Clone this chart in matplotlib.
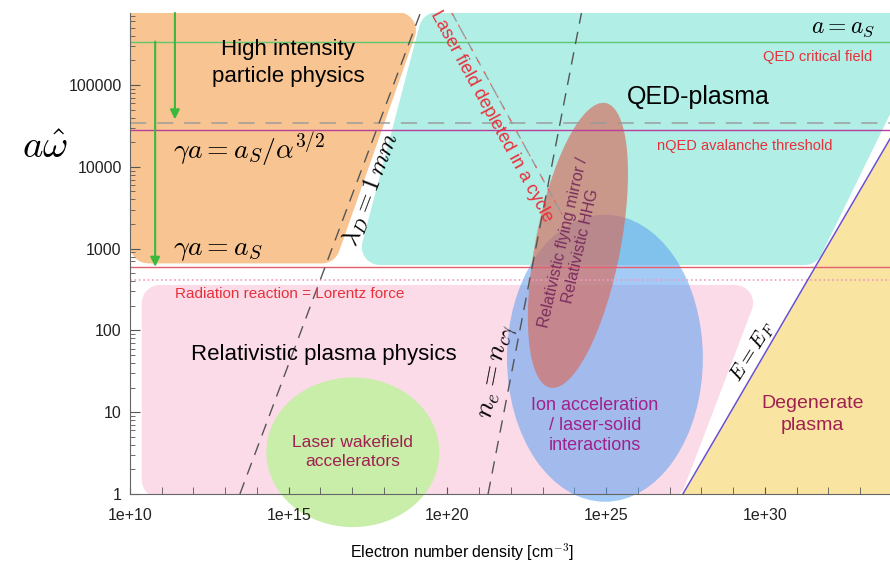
# Regimes of laser-plasma interaction in the (density, a*omega) plane

import matplotlib.pyplot as plt
import matplotlib.transforms as mtransforms
import numpy as np
from matplotlib.patches import Ellipse, Polygon
from matplotlib.ticker import NullFormatter

plt.rcParams["font.family"] = ["Liberation Sans", "DejaVu Sans"]
plt.rcParams["mathtext.fontset"] = "cm"

# Axis ranges: electron density [cm^-3] and a*omega
n_range = [1e10, 8.7e33]
a_range = [1, 7.6e5]

x_ticks = [1e10, 1e15, 1e20, 1e25, 1e30]
x_tick_labels = ["1e+10", "1e+15", "1e+20", "1e+25", "1e+30"]
y_ticks = [1, 10, 100, 1000, 10000, 100000]
y_tick_labels = ["1", "10", "100", "1000", "10000", "100000"]

# horizontal thresholds in a
a_critical = 3.4e5      # a = a_S
a_pair = 3.4e4          # gamma a = a_S / alpha^(3/2)
a_avalanche = 2.8e4     # nQED avalanche threshold
a_gamma_as = 590        # gamma a = a_S
a_rr = 410              # radiation reaction = Lorentz force

# sloped boundaries (density, a)
debye_n = [2.9e13, 1.4e19]
debye_a = [1, 7.6e5]
ncg_n = [1.9e21, 1.66e24]
ncg_a = [1, 7.6e5]
deplete_n = [1.38e20, 4.1e23]
deplete_a = [7.6e5, 2.6e3]
fermi_n = [2.6e27, 8.7e33]
fermi_a = [1, 2.2e4]

# green arrows
arrow_n = [2.6e11, 6.2e10]
arrow_a_start = [7.6e5, 3.4e5]
arrow_a_end = [3.8e4, 600]

# regime outlines, log10 of (density, a)
hi_logn = [9.37, 18.44, 16.05, 10.57]
hi_loga = [5.67, 5.67, 3.04, 3.04]
qed_logn = [19.67, 34.6, 31.26, 17.87]
qed_loga = [5.67, 5.67, 3.02, 3.02]
rel_logn = [10.94, 29.06, 26.94, 10.94]
rel_loga = [2.335, 2.335, 0.171, 0.171]

# elliptical regimes: centre (log10 n, log10 a), extent in decades
lwfa = (17.02, 0.51, 5.45, 1.83)
ion = (24.96, 1.66, 6.17, 3.51)
mirror = (24.11, 3.04)

fig = plt.figure(figsize=(8.9, 5.61), dpi=100)
ax = fig.add_axes([130 / 890, 67 / 561, 760 / 890, 481 / 561])
ax.set_xscale("log")
ax.set_yscale("log")
ax.set_xlim(n_range)
ax.set_ylim(a_range)

# transform taking log10 coordinates to the screen
log_tr = ax.transLimits + ax.transAxes
kx = 760 / (np.log10(n_range[1]) - np.log10(n_range[0]))
ky = 481 / (np.log10(a_range[1]) - np.log10(a_range[0]))
iso_tr = mtransforms.Affine2D().scale(1 / kx, 1 / ky) + log_tr


def region(logn, loga, color, z):
    pts = np.column_stack([logn, loga])
    ax.add_patch(Polygon(pts, closed=True, transform=log_tr, fc=color, ec=color,
                         lw=26, joinstyle="round", zorder=z))


region(rel_logn, rel_loga, "#fbdbe8", 1.0)
region(hi_logn, hi_loga, "#f8c592", 1.1)
region(qed_logn, qed_loga, "#b0eee6", 1.2)
ax.fill_between(fermi_n, fermi_a, 0.5, color="#f9e4a2", lw=0, zorder=1.3)

ax.add_patch(Ellipse(lwfa[:2], lwfa[2], lwfa[3], transform=log_tr, fc="#c8eeaa",
                     ec="none", zorder=1.5, clip_on=False))
ax.add_patch(Ellipse(ion[:2], ion[2], ion[3], transform=log_tr, fc="#5a9ff0",
                     ec="none", alpha=0.55, zorder=1.6, clip_on=False))
ax.add_patch(Ellipse((mirror[0] * kx, mirror[1] * ky), 85, 290, angle=-11,
                     transform=iso_tr, fc="#d86a5a", ec="none", alpha=0.65, zorder=1.7))

# horizontal lines
ax.axhline(a_critical, color="#5cc870", lw=1, zorder=2)
ax.axhline(a_pair, color="#999999", lw=1.3, dashes=(9, 6), alpha=0.8, zorder=2)
ax.axhline(a_avalanche, color="#b8409c", lw=1, zorder=2)
ax.axhline(a_gamma_as, color="#e06070", lw=1, zorder=2)
ax.axhline(a_rr, color="#f09ac0", lw=1.2, ls=":", zorder=2)

# sloped lines
ax.plot(debye_n, debye_a, color="#555555", lw=1, dashes=(9, 6), zorder=2)
ax.plot(ncg_n, ncg_a, color="#555555", lw=1, dashes=(9, 6), zorder=2)
ax.plot(deplete_n, deplete_a, color="#999999", lw=1, dashes=(7, 5), zorder=2)
ax.plot(deplete_n, deplete_a, color="#ee6060", lw=0.8, dashes=(3, 9), zorder=2)
ax.plot(fermi_n, fermi_a, color="#6a50d0", lw=1.1, zorder=2)

for n, a0, a1 in zip(arrow_n, arrow_a_start, arrow_a_end):
    ax.annotate("", xy=(n, a1), xytext=(n, a0),
                arrowprops=dict(arrowstyle="-|>", color="#3cb83c", lw=1.5,
                                mutation_scale=14, shrinkA=0, shrinkB=0), zorder=3)

# labels
red = "#e8303a"
ax.text(10**14.98, 10**5.27, "High intensity\nparticle physics", fontsize=16,
        ha="center", va="center", linespacing=1.4, zorder=4)
ax.text(10**27.89, 10**4.85, "QED-plasma", fontsize=18, ha="center", va="center", zorder=4)
ax.text(10**32.46, 10**5.70, r"$a = a_S$", fontsize=17, ha="center", va="center", zorder=4)
ax.text(10**31.67, 10**5.34, "QED critical field", fontsize=10.5, color=red,
        ha="center", va="center", zorder=4)
ax.text(10**29.37, 10**4.25, "nQED avalanche threshold", fontsize=10.5, color=red,
        ha="center", va="center", zorder=4)
ax.text(10**11.35, 10**4.21, r"$\gamma a = a_S/\alpha^{3/2}$", fontsize=20,
        ha="left", va="center", zorder=4)
ax.text(10**11.35, 10**2.98, r"$\gamma a = a_S$", fontsize=20, ha="left", va="center", zorder=4)
ax.text(10**15.04, 10**2.445, "Radiation reaction = Lorentz force", fontsize=11,
        color=red, ha="center", va="center", zorder=4)
ax.text(10**16.11, 10**1.70, "Relativistic plasma physics", fontsize=16,
        ha="center", va="center", zorder=4)
ax.text(10**17.0, 10**0.51, "Laser wakefield\naccelerators", fontsize=12.5,
        color="#a02050", ha="center", va="center", linespacing=1.35, zorder=4)
ax.text(10**24.65, 10**0.84, "Ion acceleration\n/ laser-solid\ninteractions", fontsize=13,
        color="#a0208c", ha="center", va="center", linespacing=1.25, zorder=4)
ax.text(10**31.51, 10**0.97, "Degenerate\nplasma", fontsize=14, color="#a02050",
        ha="center", va="center", linespacing=1.4, zorder=4)
ax.text(10**23.92, 10**3.05, "Relativistic flying mirror /\nRelativistic HHG", fontsize=11.5,
        color="#7a2e5e", rotation=77, ha="center", va="center", rotation_mode="anchor",
        zorder=4)
ax.text(10**21.40, 10**4.62, "Laser field depleted in a cycle", fontsize=13, color=red,
        rotation=-61.4, ha="center", va="center", rotation_mode="anchor", zorder=4,
        clip_on=False)
ax.text(10**17.62, 10**3.72, r"$\lambda_D = 1\,mm$", fontsize=18, rotation=69,
        ha="center", va="center", rotation_mode="anchor", zorder=4)
ax.text(10**21.65, 10**1.49, r"$n_e = n_{c\gamma}$", fontsize=20, rotation=79,
        ha="center", va="center", rotation_mode="anchor", zorder=4)
ax.text(10**29.62, 10**1.74, r"$E = E_F$", fontsize=15, rotation=58,
        ha="center", va="center", rotation_mode="anchor", zorder=4)

# axes styling
ax.set_xticks(x_ticks, labels=x_tick_labels)
ax.set_xticks([10.0**k for k in range(10, 34)], minor=True)
ax.set_yticks(y_ticks, labels=y_tick_labels)
ax.set_yticks([m * 10.0**k for k in range(0, 6) for m in range(2, 10)
               if m * 10.0**k < a_range[1]], minor=True)
ax.xaxis.set_minor_formatter(NullFormatter())
ax.yaxis.set_minor_formatter(NullFormatter())
ax.tick_params(which="both", direction="in", colors="#555555", labelcolor="#222222")
ax.tick_params(axis="x", which="both", length=5, pad=10, labelsize=11.5)
ax.tick_params(axis="y", which="major", length=7, pad=6, labelsize=11.5)
ax.tick_params(axis="y", which="minor", length=3.5)
for side in ["top", "right"]:
    ax.spines[side].set_visible(False)
for side in ["left", "bottom"]:
    ax.spines[side].set_color("#666666")
ax.set_facecolor("none")

ax.set_xlabel(r"Electron number density [cm$^{-3}$]", fontsize=11.5, va="top")
ax.xaxis.set_label_coords(0.437, -0.098)
ax.set_ylabel(r"$a\hat{\omega}$", fontsize=28, rotation=0, va="center", ha="center")
ax.yaxis.set_label_coords(-0.112, 0.72)

fig.savefig("out.png", dpi=100)
